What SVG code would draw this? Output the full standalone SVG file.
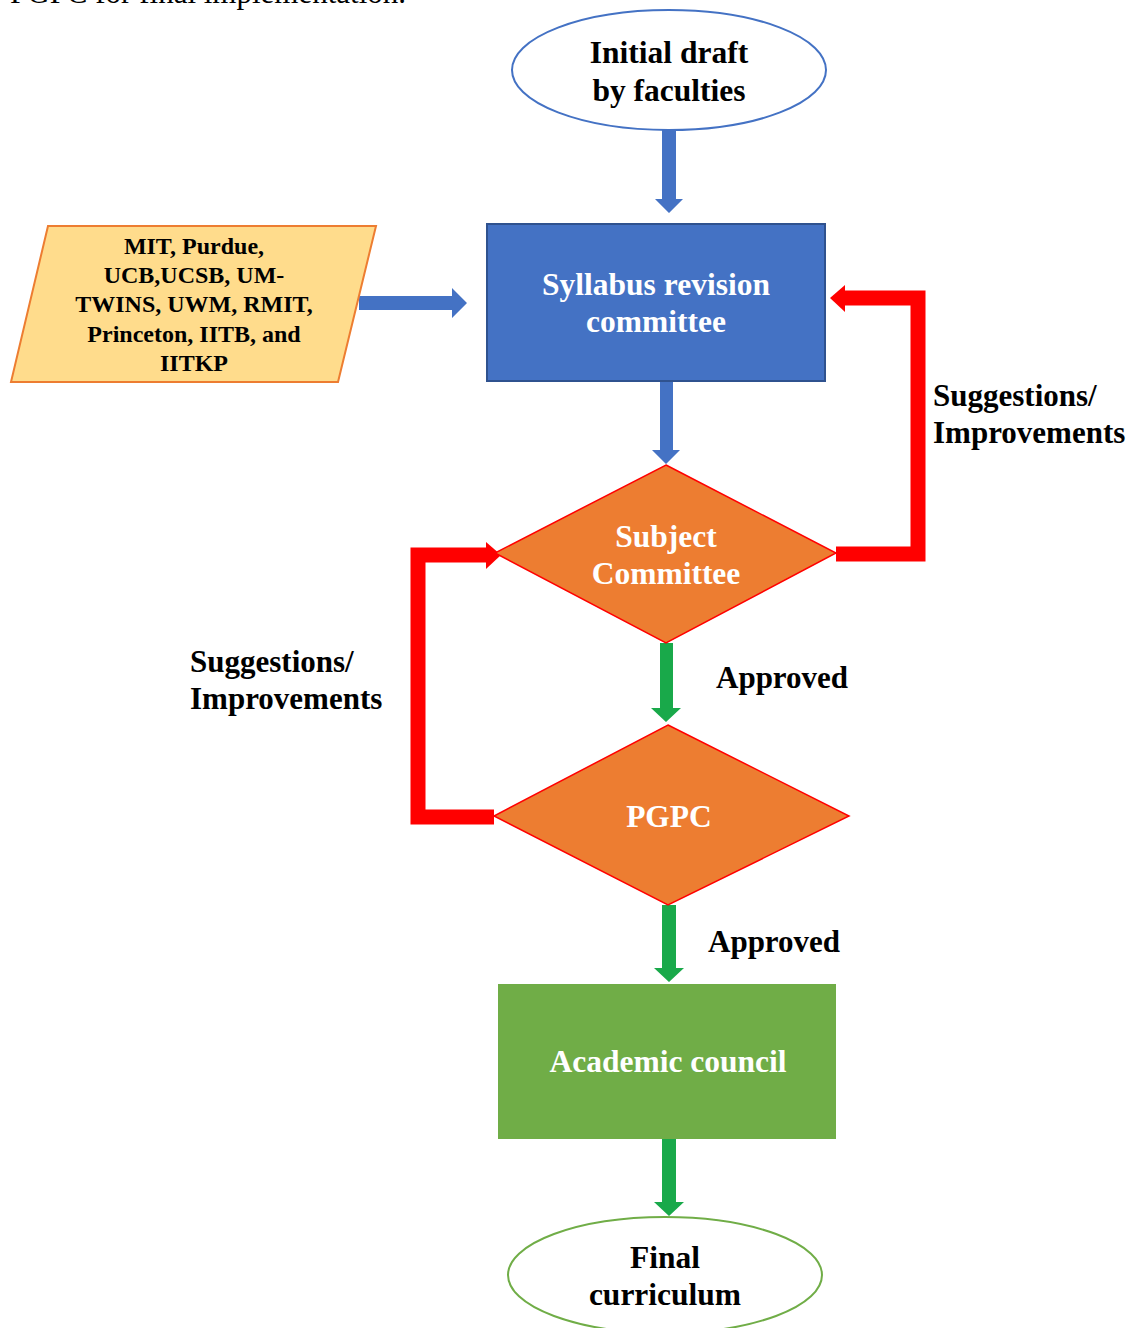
<svg xmlns="http://www.w3.org/2000/svg" width="1130" height="1328" viewBox="0 0 1130 1328">
<style>
text{font-family:"Liberation Serif","Times New Roman",serif;font-weight:bold}
.big{font-size:31.5px}
.lbl{font-size:31px;fill:#000}
.uni{font-size:24px}
.w{fill:#fff}
.c{text-anchor:middle}
.blue{fill:#4472C4}
.green{fill:#19A94A}
.red{fill:none;stroke:#FF0000;stroke-width:15}
</style>
<rect width="1130" height="1328" fill="#fff"/>
<text x="10" y="3" style="font-size:31px;font-weight:normal">PGPC for final implementation.</text>

<g id="connectors">
  <polygon class="blue" points="662,130 676,130 676,199 683,199 669,213 655,199 662,199"/>
  <polygon class="blue" points="359,296 452,296 452,288 467,303 452,318 452,310 359,310"/>
  <polygon class="blue" points="660,381 673,381 673,450 680,450 666,464 652,450 660,450"/>
  <polyline class="red" points="836,554 918,554 918,298 845,298"/>
  <polygon fill="#FF0000" points="845,285 830,298 845,312"/>
  <polyline class="red" points="494,817 418,817 418,555 486,555"/>
  <polygon fill="#FF0000" points="486,542 501,555 486,569"/>
  <polygon class="green" points="660,643 673,643 673,708 681,708 666,722 651,708 660,708"/>
  <polygon class="green" points="662,905 676,905 676,968 684,968 669,982 654,968 662,968"/>
  <polygon class="green" points="662,1136 676,1136 676,1202 684,1202 669,1216 654,1202 662,1202"/>
  <text class="lbl" x="933" y="406">Suggestions/</text>
  <text class="lbl" x="933" y="443">Improvements</text>
  <text class="lbl" x="190" y="672">Suggestions/</text>
  <text class="lbl" x="190" y="709">Improvements</text>
  <text class="lbl" x="716" y="688">Approved</text>
  <text class="lbl" x="708" y="952">Approved</text>
</g>

<g id="initial">
  <ellipse cx="669" cy="70" rx="157" ry="60" fill="#fff" stroke="#4472C4" stroke-width="2"/>
  <text class="big c" x="669" y="63">Initial draft</text>
  <text class="big c" x="669" y="101">by faculties</text>
</g>

<g id="universities">
  <polygon points="48,226 376,226 338,382 11,382" fill="#FFDC8C" stroke="#ED7D31" stroke-width="2"/>
  <text class="uni c" x="194" y="254">MIT, Purdue,</text>
  <text class="uni c" x="194" y="283">UCB,UCSB, UM-</text>
  <text class="uni c" x="194" y="312">TWINS, UWM, RMIT,</text>
  <text class="uni c" x="194" y="342">Princeton, IITB, and</text>
  <text class="uni c" x="194" y="371">IITKP</text>
</g>

<g id="syllabus">
  <rect x="487" y="224" width="338" height="157" fill="#4472C4" stroke="#2F528F" stroke-width="2"/>
  <text class="big c w" x="656" y="295">Syllabus revision</text>
  <text class="big c w" x="656" y="332">committee</text>
</g>

<g id="subject">
  <polygon points="666,465 836,553 666,643 495,553" fill="#ED7D31" stroke="#FF0000" stroke-width="1.5"/>
  <text class="big c w" x="666" y="547">Subject</text>
  <text class="big c w" x="666" y="584">Committee</text>
</g>

<g id="pgpc">
  <polygon points="668,725 849,816 668,905 494,816" fill="#ED7D31" stroke="#FF0000" stroke-width="1.5"/>
  <text class="big c w" x="669" y="827">PGPC</text>
</g>

<g id="academic">
  <rect x="498" y="984" width="338" height="155" fill="#70AD47"/>
  <text class="big c w" x="668" y="1072">Academic council</text>
</g>

<g id="final">
  <ellipse cx="665" cy="1275" rx="157" ry="58" fill="#fff" stroke="#70AD47" stroke-width="2"/>
  <text class="big c" x="665" y="1268">Final</text>
  <text class="big c" x="665" y="1305">curriculum</text>
</g>
</svg>
